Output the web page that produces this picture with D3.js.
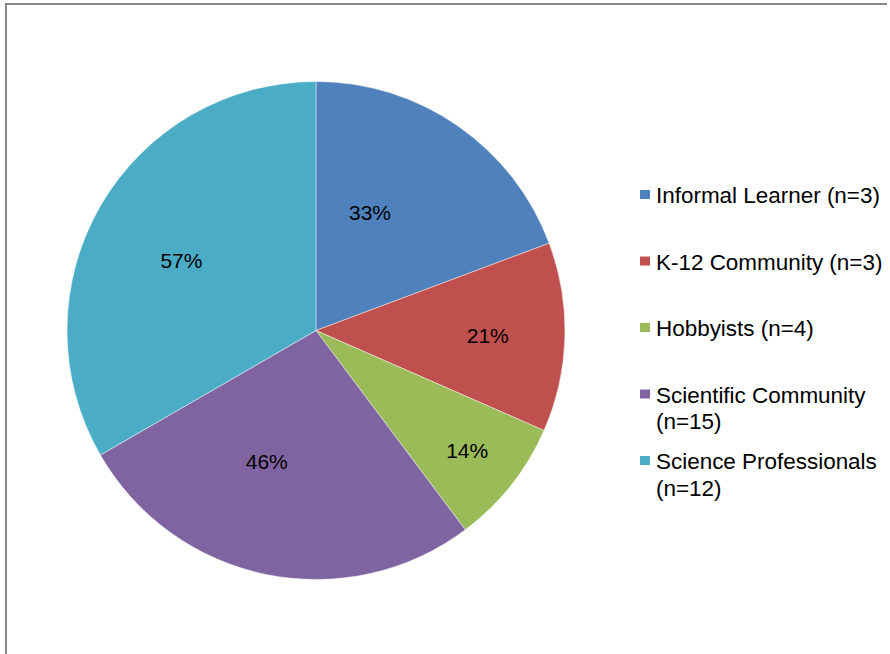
<!DOCTYPE html>
<html>
<head>
<meta charset="utf-8">
<script src="https://cdn.jsdelivr.net/npm/d3@7/dist/d3.min.js"></script>
<style>
  html, body { margin: 0; padding: 0; background: #ffffff; }
  svg { display: block; }
  text { font-family: "Liberation Sans", Arial, sans-serif; fill: #000; }
</style>
</head>
<body>
<svg id="chart" width="890" height="654"></svg>
<script>
// Audience groups and their shares (percent labels drive the slice sizes)
const categories = [
  "Informal Learner (n=3)",
  "K-12 Community (n=3)",
  "Hobbyists (n=4)",
  "Scientific Community (n=15)",
  "Science Professionals (n=12)"
];
const percents = [33, 21, 14, 46, 57];
const legendLines = [
  ["Informal Learner (n=3)"],
  ["K-12 Community (n=3)"],
  ["Hobbyists (n=4)"],
  ["Scientific Community", "(n=15)"],
  ["Science Professionals", "(n=12)"]
];
const colors = ["#4F81BD", "#C0504D", "#9BBB59", "#8064A2", "#4BACC6"];

// Layout
const W = 890, H = 654;
const cx = 316, cy = 330.5, radius = 249;
// label placement inside each slice: fraction along the slice's sweep, fraction of radius
const labelAlong = [0.355, 0.5, 0.5, 0.594, 0.48];
const labelRadius = [0.52, 0.69, 0.775, 0.56, 0.61];

const svg = d3.select("#chart");

svg.append("rect").attr("width", W).attr("height", H).attr("fill", "#fff");

// frame: top and left edges
svg.append("path")
  .attr("d", "M6,654V4H887")
  .attr("fill", "none")
  .attr("stroke", "#888")
  .attr("stroke-width", 2);

const pie = d3.pie().sort(null).value(d => d);
const arcs = pie(percents);
const arc = d3.arc().innerRadius(0).outerRadius(radius);

const g = svg.append("g").attr("transform", `translate(${cx},${cy})`);

g.selectAll("path.slice")
  .data(arcs)
  .join("path")
  .attr("class", "slice")
  .attr("d", arc)
  .attr("fill", (d, i) => colors[i])
  .attr("stroke", "rgba(255,255,255,0.45)")
  .attr("stroke-width", 1);

g.selectAll("text.pct")
  .data(arcs)
  .join("text")
  .attr("class", "pct")
  .attr("text-anchor", "middle")
  .attr("font-size", 21)
  .attr("dy", "0.36em")
  .attr("x", (d, i) => {
    const a = d.startAngle + (d.endAngle - d.startAngle) * labelAlong[i];
    return Math.sin(a) * radius * labelRadius[i];
  })
  .attr("y", (d, i) => {
    const a = d.startAngle + (d.endAngle - d.startAngle) * labelAlong[i];
    return -Math.cos(a) * radius * labelRadius[i];
  })
  .text(d => d.data + "%");

// Legend
const legendY = d3.scaleLinear().domain([0, 1]).range([203, 269.5]);
const lg = svg.append("g");
const items = lg.selectAll("g.item")
  .data(categories)
  .join("g")
  .attr("class", "item")
  .attr("transform", (d, i) => `translate(0,${legendY(i)})`);

items.append("rect")
  .attr("x", 640).attr("y", -13)
  .attr("width", 10).attr("height", 9)
  .attr("fill", (d, i) => colors[i]);

items.append("text")
  .attr("transform", "translate(656,0) scale(1.04,1)")
  .attr("font-size", 21.6)
  .each(function (d, i) {
    d3.select(this).selectAll("tspan")
      .data(legendLines[i])
      .join("tspan")
      .attr("x", 0)
      .attr("dy", (t, j) => j === 0 ? 0 : 27)
      .text(t => t);
  });
</script>
</body>
</html>
